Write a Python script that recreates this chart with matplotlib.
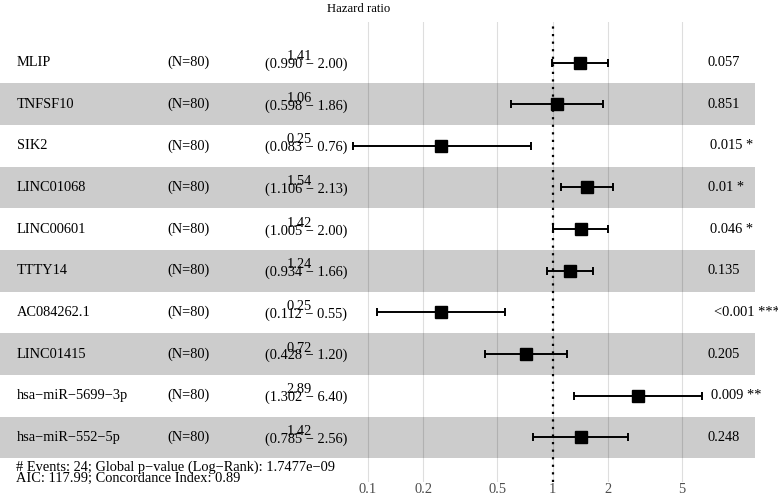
import matplotlib
matplotlib.use("Agg")
import matplotlib.pyplot as plt
import numpy as np

plt.rcParams['font.family'] = ['Liberation Serif', 'DejaVu Serif']

names = ["MLIP", "TNFSF10", "SIK2", "LINC01068", "LINC00601", "TTTY14",
         "AC084262.1", "LINC01415", "hsa\u2212miR\u22125699\u22123p", "hsa\u2212miR\u2212552\u22125p"]
n_labels = ["(N=80)"] * 10
hr = [1.41, 1.06, 0.25, 1.54, 1.42, 1.24, 0.25, 0.72, 2.89, 1.42]
ci_low = [0.990, 0.598, 0.083, 1.106, 1.005, 0.934, 0.112, 0.428, 1.302, 0.785]
ci_high = [2.00, 1.86, 0.76, 2.13, 2.00, 1.66, 0.55, 1.20, 6.40, 2.56]
p_labels = ["0.057", "0.851", "0.015 *", "0.01 *", "0.046 *", "0.135",
            "<0.001 ***", "0.205", "0.009 **", "0.248"]
breaks = [0.1, 0.2, 0.5, 1, 2, 5]
break_labels = ["0.1", "0.2", "0.5", "1", "2", "5"]
footer1 = "# Events: 24; Global p\u2212value (Log\u2212Rank): 1.7477e\u221209"
footer2 = "AIC: 117.99; Concordance Index: 0.89"

W, H = 778, 497
fig = plt.figure(figsize=(W / 100, H / 100), dpi=100)
top_px, bot_px = 22, 482
ax = fig.add_axes([0, 1 - bot_px / H, 1, (bot_px - top_px) / H])
ax.set_xscale('log')
x0px, dec = 367.7, 185.0
ax.set_xlim(10 ** (-1 - x0px / dec), 10 ** (-1 + (W - x0px) / dec))
row0, rowh = 62.5, 41.65
ax.set_ylim((bot_px - row0) / rowh, (top_px - row0) / rowh)

rows = np.arange(len(names))
fs = 10.4

for b in breaks:
    ax.axvline(b, color='#DEDEDE', lw=0.8, zorder=0)
for i in rows:
    if i % 2 == 1:
        ax.axhspan(i - 0.5, i + 0.5, xmin=0, xmax=755 / W, color='black', alpha=0.2, lw=0, zorder=1)

ax.axvline(1, color='black', ls=(0, (1, 2.4)), lw=1.6, zorder=3)
hr_a = np.array(hr)
ax.errorbar(hr_a, rows, xerr=[hr_a - np.array(ci_low), np.array(ci_high) - hr_a],
            fmt='s', color='black', ms=9, capsize=3.2, elinewidth=1.4, capthick=1.4, zorder=4)

tr = ax.get_yaxis_transform()
ptexts = []
for i in rows:
    ax.text(17 / W, i, names[i], transform=tr, ha='left', va='center', fontsize=fs)
    ax.text(167 / W, i, n_labels[i], transform=tr, ha='left', va='center', fontsize=fs)
    ax.text(299 / W, i - 0.06, f"{hr[i]:.2f}", transform=tr, ha='center', va='baseline', fontsize=fs)
    ax.text(306 / W, i + 0.04, f"({ci_low[i]:.3f} \u2212 {ci_high[i]:.2f})", transform=tr,
            ha='center', va='center', fontsize=fs)
    t = ax.text(702 / W, i, p_labels[i], transform=tr, ha='left', va='center', fontsize=fs)
    ptexts.append(t)

fig.canvas.draw()
renderer = fig.canvas.get_renderer()
for t in ptexts:
    w = t.get_window_extent(renderer).width
    t.set_x((701 + 0.2 * w) / W)

fig.text(16 / W, 1 - 467 / H, footer1, ha='left', va='center', fontsize=fs)
fig.text(16 / W, 1 - 478.5 / H, footer2, ha='left', va='center', fontsize=fs)
fig.text(359 / W, 1 - 8.5 / H, "Hazard ratio", ha='center', va='center', fontsize=9.2)

ax.set_xticks(breaks)
ax.set_xticklabels(break_labels)
ax.minorticks_off()
ax.tick_params(axis='x', length=0, pad=1, labelsize=fs, labelcolor='#4D4D4D')
ax.set_yticks([])
for s in ax.spines.values():
    s.set_visible(False)
ax.patch.set_alpha(0)

fig.savefig("out.png", dpi=100)
